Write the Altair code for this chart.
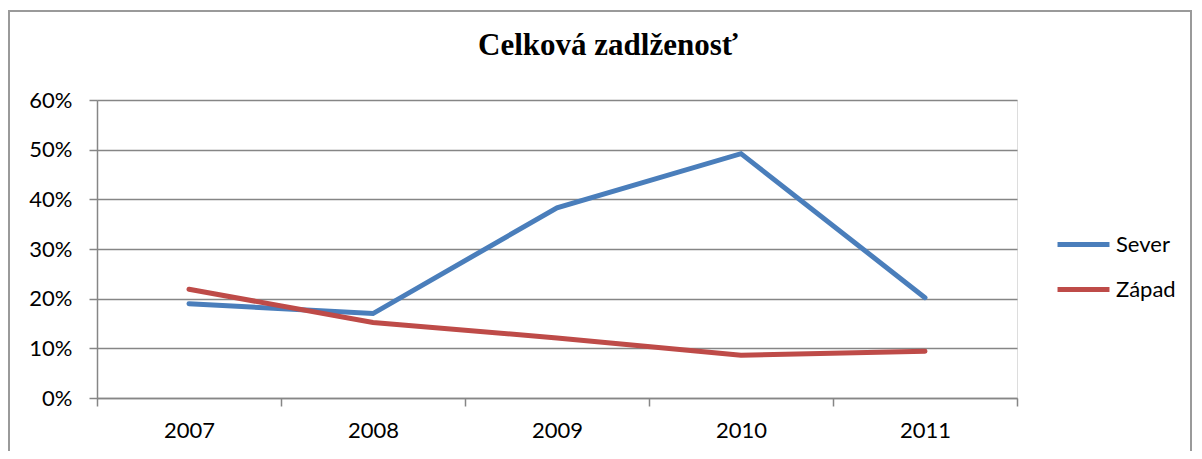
import altair as alt
import pandas as pd

years = ["2007", "2008", "2009", "2010", "2011"]
sever = [0.19, 0.17, 0.383, 0.492, 0.202]
zapad = [0.219, 0.152, 0.121, 0.086, 0.094]
series_names = ["Sever", "Západ"]
colors = ["#4A7EBB", "#BE4B48"]

rows = []
for y, v in zip(years, sever):
    rows.append({"year": y, "value": v, "series": series_names[0]})
for y, v in zip(years, zapad):
    rows.append({"year": y, "value": v, "series": series_names[1]})
df = pd.DataFrame(rows)

FONT = "Lato"
FS = 22

border = alt.Chart(pd.DataFrame({"a": [0]})).mark_rect(
    fill=None, stroke="#9a9a9a", strokeWidth=2
).encode(
    x=alt.value(-88), x2=alt.value(1094), y=alt.value(-89), y2=alt.value(420)
)

lines = alt.Chart(df).mark_line(strokeWidth=5, strokeCap="round").encode(
    x=alt.X("year:N", sort=years, title=None,
            scale=alt.Scale(paddingInner=0, paddingOuter=0),
            axis=alt.Axis(labelAngle=0, tickBand="extent", grid=False,
                          domainColor="#868686", domainWidth=1.5,
                          tickColor="#868686", tickWidth=1.5, tickSize=8,
                          labelFont=FONT, labelFontSize=FS, labelColor="#000",
                          labelPadding=14)),
    y=alt.Y("value:Q", title=None,
            scale=alt.Scale(domain=[0, 0.6]),
            axis=alt.Axis(format=".0%", values=[0, 0.1, 0.2, 0.3, 0.4, 0.5, 0.6],
                          grid=True, gridColor="#868686", gridWidth=1.5,
                          domainColor="#868686", domainWidth=1.5,
                          tickColor="#868686", tickWidth=1.5, tickSize=8,
                          labelFont=FONT, labelFontSize=FS, labelColor="#000",
                          labelPadding=17)),
    color=alt.Color("series:N", title=None,
                    scale=alt.Scale(domain=series_names, range=colors),
                    legend=alt.Legend(orient="none", legendX=958, legendY=116,
                                      symbolType="stroke", symbolSize=2700,
                                      symbolStrokeWidth=5, labelFont=FONT,
                                      labelFontSize=FS, labelColor="#000",
                                      labelOffset=4, rowPadding=5)),
    detail="series:N",
)

chart = alt.layer(border, lines).properties(
    width=920, height=298,
    title=alt.TitleParams("Celková zadlženosť", font="Liberation Serif",
                          fontSize=31, fontWeight="bold", color="#000",
                          anchor="middle", dx=51, offset=-52),
    autosize=alt.AutoSizeParams(type="none"),
    padding={"left": 89, "top": 92, "right": 177, "bottom": 53},
).configure_view(stroke=None).configure(background="white")

chart.save("out.html", embed_options={"renderer": "svg", "actions": False})
